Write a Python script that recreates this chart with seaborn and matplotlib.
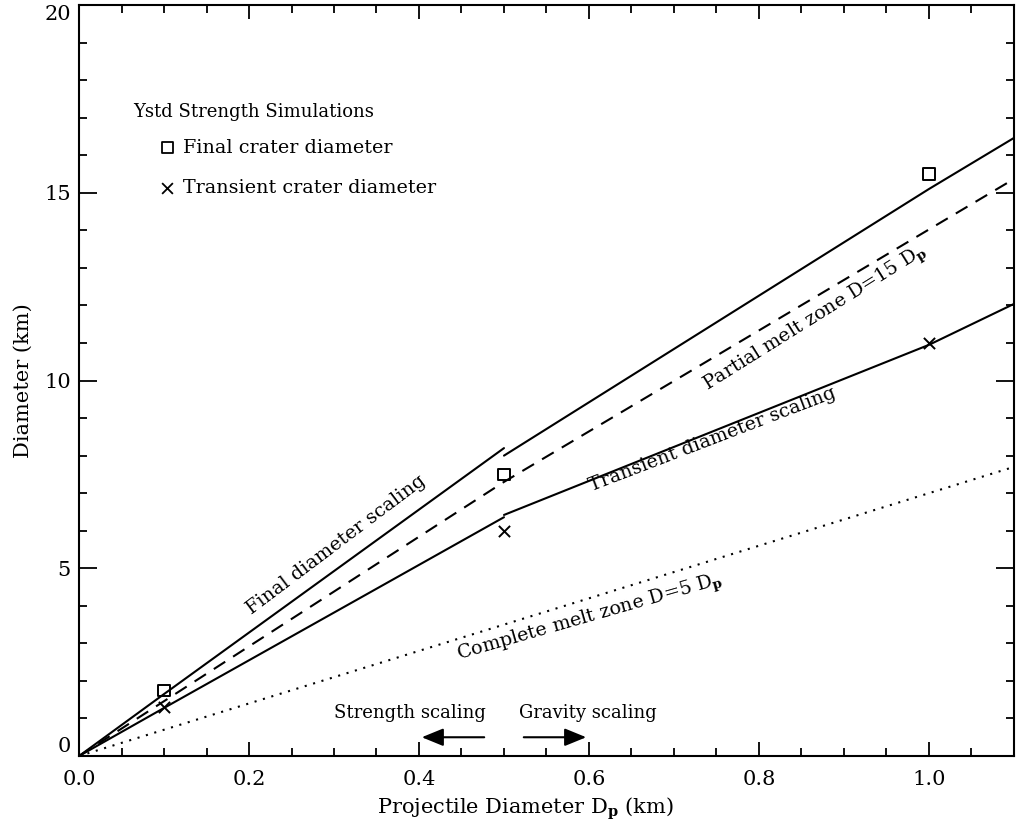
import matplotlib
matplotlib.use("Agg")
import matplotlib.pyplot as plt
import seaborn as sns
import numpy as np
from matplotlib.ticker import MultipleLocator

# ---- data ----
final_str_x = [0.0, 0.1, 0.5]
final_str_y = [0.0, 1.65, 8.2]
final_grav_x = [0.5, 1.0, 1.1]
final_grav_y = [8.0, 15.1, 16.46]
trans_str_x = [0.0, 0.1, 0.5]
trans_str_y = [0.0, 1.28, 6.36]
trans_grav_x = [0.5, 1.0, 1.1]
trans_grav_y = [6.42, 10.95, 12.04]
partial_x = [0.0, 0.5, 1.095]
partial_y = [0.0, 7.3, 15.3]
complete_x = [0.0, 1.1]
complete_y = [0.0, 7.7]
sim_dp = [0.1, 0.5, 1.0]
sim_final = [1.75, 7.5, 15.5]
sim_transient = [1.3, 6.0, 11.0]
xtick_vals = [0.0, 0.2, 0.4, 0.6, 0.8, 1.0]
xtick_labels = ['0.0', '0.2', '0.4', '0.6', '0.8', '1.0']
ytick_vals = [0, 5, 10, 15, 20]
ytick_labels = ['0', '5', '10', '15', '20']

sns.set_theme(style="ticks")
plt.rcParams['font.family'] = ['DejaVu Serif', 'DejaVu Sans']
plt.rcParams['mathtext.fontset'] = 'dejavuserif'
plt.rcParams['text.color'] = 'black'
plt.rcParams['axes.labelcolor'] = 'black'
plt.rcParams['xtick.color'] = 'black'
plt.rcParams['ytick.color'] = 'black'

fig = plt.figure(figsize=(10.17, 8.33), dpi=100)
ax = fig.add_axes([0.0777, 0.0924, 0.9193, 0.9016])

lw = 1.5
kw = dict(ax=ax, color='black', linewidth=lw, legend=False)
sns.lineplot(x=final_str_x, y=final_str_y, **kw)
sns.lineplot(x=final_grav_x, y=final_grav_y, **kw)
sns.lineplot(x=trans_str_x, y=trans_str_y, **kw)
sns.lineplot(x=trans_grav_x, y=trans_grav_y, **kw)
sns.lineplot(x=partial_x, y=partial_y, linestyle=(0, (6.5, 4.5)), **kw)
sns.lineplot(x=complete_x, y=complete_y, linestyle=(0, (1, 3.2)), **kw)

sns.scatterplot(x=sim_dp, y=sim_final, ax=ax, marker='s', s=65,
                facecolor='none', edgecolor='black', linewidth=1.4, legend=False, zorder=5)
sns.scatterplot(x=sim_dp, y=sim_transient, ax=ax, marker='x', s=65,
                color='black', linewidth=1.4, legend=False, zorder=5)

ax.set_xlim(0, 1.1)
ax.set_ylim(0, 20)
ax.set_xticks(xtick_vals)
ax.set_xticklabels(xtick_labels)
ax.set_yticks(ytick_vals)
ax.set_yticklabels(ytick_labels)
ax.xaxis.set_minor_locator(MultipleLocator(0.05))
ax.yaxis.set_minor_locator(MultipleLocator(1))
ax.tick_params(axis='both', which='both', direction='in', top=True, right=True,
               colors='black', labelsize=15, width=1.3)
ax.tick_params(axis='x', which='major', length=10, pad=10)
ax.tick_params(axis='x', which='minor', length=5.5)
ax.tick_params(axis='y', which='major', length=13, pad=6)
ax.tick_params(axis='y', which='minor', length=6)
for s in ax.spines.values():
    s.set_linewidth(1.5)
    s.set_color('black')

yticks = ax.yaxis.get_major_ticks()
yticks[0].label1.set_verticalalignment('bottom')
yticks[-1].label1.set_verticalalignment('top')

ax.set_xlabel(r'Projectile Diameter D$_{\mathbf{p}}$ (km)', fontsize=15)
ax.xaxis.set_label_coords(0.477, -0.052)
ax.set_ylabel('Diameter (km)', fontsize=15, labelpad=8)

tfs = 13.8
ax.text(0.0635, 17.15, 'Ystd Strength Simulations', fontsize=13, va='center', ha='left')
ax.scatter([0.104], [16.2], marker='s', s=60, facecolor='none', edgecolor='black', linewidth=1.3)
ax.text(0.122, 16.2, 'Final crater diameter', fontsize=tfs, va='center', ha='left')
ax.scatter([0.104], [15.13], marker='x', s=60, color='black', linewidth=1.3)
ax.text(0.122, 15.13, 'Transient crater diameter', fontsize=tfs, va='center', ha='left')

ax.text(0.302, 5.62, 'Final diameter scaling', fontsize=tfs, rotation=37,
        ha='center', va='center', rotation_mode='anchor')
ax.text(0.867, 11.64, r'Partial melt zone D=15 D$_{\mathbf{p}}$', fontsize=tfs, rotation=32,
        ha='center', va='center', rotation_mode='anchor')
ax.text(0.745, 8.42, 'Transient diameter scaling', fontsize=tfs, rotation=21,
        ha='center', va='center', rotation_mode='anchor')
ax.text(0.601, 3.67, r'Complete melt zone D=5 D$_{\mathbf{p}}$', fontsize=tfs, rotation=16,
        ha='center', va='center', rotation_mode='anchor')

ax.text(0.389, 1.15, 'Strength scaling', fontsize=13, ha='center', va='center')
ax.text(0.599, 1.15, 'Gravity scaling', fontsize=13, ha='center', va='center')
ax.annotate('', xy=(0.40, 0.5), xytext=(0.48, 0.5),
            arrowprops=dict(arrowstyle='-|>,head_length=1.1,head_width=0.45', color='black', lw=1.5))
ax.annotate('', xy=(0.60, 0.5), xytext=(0.52, 0.5),
            arrowprops=dict(arrowstyle='-|>,head_length=1.1,head_width=0.45', color='black', lw=1.5))

fig.savefig('out.png', dpi=100, facecolor='white')
